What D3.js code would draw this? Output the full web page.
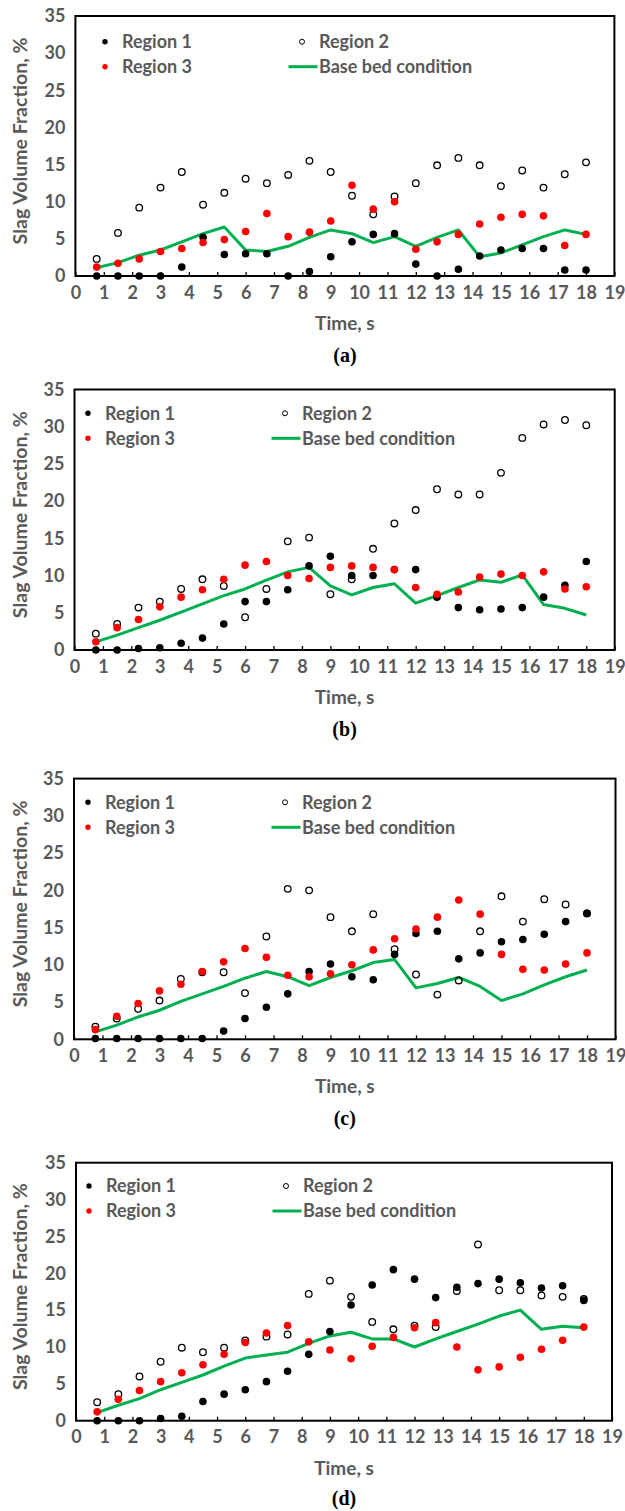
<!DOCTYPE html>
<html>
<head>
<meta charset="utf-8">
<script src="https://cdn.jsdelivr.net/npm/d3@7"></script>
<style>
  body { margin: 0; background: #fff; }
  svg text { font-family: Lato, "Open Sans", sans-serif; font-weight: bold; fill: #595959; }
  .plabel { font-family: "Liberation Serif", "Times New Roman", serif !important; fill: #000 !important; }
</style>
</head>
<body>
<div id="svg-container"></div>
<script>
// ---------- data ----------
const times = [0.75, 1.5, 2.25, 3, 3.75, 4.5, 5.25, 6, 6.75, 7.5, 8.25, 9, 9.75, 10.5, 11.25, 12, 12.75, 13.5, 14.25, 15, 15.75, 16.5, 17.25, 18];
const xTicks = [0, 1, 2, 3, 4, 5, 6, 7, 8, 9, 10, 11, 12, 13, 14, 15, 16, 17, 18, 19];
const yTicks = [0, 5, 10, 15, 20, 25, 30, 35];
const seriesNames = ["Region 1", "Region 2", "Region 3", "Base bed condition"];
const panelNames = ["(a)", "(b)", "(c)", "(d)"];

// panel (a)
const r1A = [0, 0, 0, 0, 1.2, 5.2, 2.9, 3.0, 3.0, 0, 0.6, 2.6, 4.6, 5.6, 5.7, 1.6, 0, 0.9, 2.7, 3.5, 3.7, 3.7, 0.8, 0.8];
const r2A = [2.3, 5.8, 9.2, 11.9, 14.0, 9.6, 11.2, 13.1, 12.5, 13.6, 15.5, 14.0, 10.8, 8.3, 10.7, 12.5, 14.9, 15.9, 14.9, 12.1, 14.2, 11.9, 13.7, 15.3];
const r3A = [1.2, 1.7, 2.3, 3.3, 3.7, 4.5, 4.9, 6.0, 8.4, 5.3, 5.9, 7.4, 12.2, 9.0, 10.0, 3.6, 4.6, 5.6, 7.0, 7.9, 8.3, 8.1, 4.1, 5.6];
const baseA = [1.1, 1.8, 2.8, 3.5, 4.6, 5.7, 6.6, 3.5, 3.3, 4.0, 5.2, 6.2, 5.7, 4.5, 5.3, 4.0, 5.2, 6.2, 2.6, 3.1, 4.2, 5.3, 6.2, 5.6];

// panel (b)
const r1B = [0, 0, 0.2, 0.3, 0.9, 1.6, 3.5, 6.5, 6.5, 8.1, 11.3, 12.6, 10.0, 10.0, 10.8, 10.8, 7.1, 5.7, 5.4, 5.5, 5.7, 7.1, 8.7, 11.9];
const r2B = [2.2, 3.5, 5.7, 6.5, 8.2, 9.5, 8.6, 4.4, 8.2, 14.6, 15.1, 7.5, 9.5, 13.6, 17.0, 18.8, 21.6, 20.9, 20.9, 23.8, 28.5, 30.3, 30.9, 30.2];
const r3B = [1.1, 3.0, 4.1, 5.8, 7.1, 8.1, 9.5, 11.4, 11.9, 10.0, 9.6, 11.1, 11.3, 11.1, 10.8, 8.4, 7.5, 7.8, 9.8, 10.2, 10.0, 10.5, 8.2, 8.5];
const baseB = [1.1, 2.0, 3.0, 4.0, 5.1, 6.2, 7.3, 8.2, 9.4, 10.5, 11.1, 8.6, 7.4, 8.4, 8.9, 6.3, 7.3, 8.4, 9.4, 9.1, 10.1, 6.1, 5.6, 4.7];

// panel (c)
const r1C = [0.1, 0.1, 0.1, 0.1, 0.1, 0.1, 1.1, 2.8, 4.3, 6.1, 9.1, 10.1, 8.4, 8.0, 11.4, 14.2, 14.5, 10.8, 11.6, 13.1, 13.4, 14.1, 15.8, 16.9];
const r2C = [1.7, 2.8, 4.1, 5.2, 8.1, 9.0, 9.0, 6.2, 13.8, 20.2, 20.0, 16.4, 14.5, 16.8, 12.1, 8.7, 6.0, 7.9, 14.5, 19.2, 15.8, 18.8, 18.1, 16.9];
const r3C = [1.3, 3.1, 4.8, 6.5, 7.4, 9.1, 10.4, 12.2, 11.0, 8.6, 8.4, 8.8, 10.0, 12.0, 13.5, 14.8, 16.4, 18.7, 16.8, 11.4, 9.4, 9.3, 10.1, 11.6];
const baseC = [1.0, 1.9, 3.0, 3.9, 5.1, 6.1, 7.1, 8.2, 9.1, 8.4, 7.2, 8.3, 9.2, 10.3, 10.7, 6.9, 7.5, 8.3, 7.1, 5.2, 6.1, 7.3, 8.4, 9.3];

// panel (d)
const r1D = [0, 0, 0, 0.3, 0.6, 2.6, 3.6, 4.2, 5.3, 6.7, 9.0, 12.1, 15.7, 18.4, 20.5, 19.2, 16.7, 18.1, 18.6, 19.2, 18.7, 18.0, 18.3, 16.3];
const r2D = [2.5, 3.6, 6.0, 8.0, 9.9, 9.3, 9.9, 10.9, 11.4, 11.7, 17.2, 19.0, 16.8, 13.4, 12.4, 12.9, 12.7, 17.6, 23.9, 17.7, 17.7, 17.0, 16.8, 16.5];
const r3D = [1.2, 2.9, 4.1, 5.3, 6.5, 7.6, 9.0, 10.6, 11.9, 12.9, 10.7, 9.6, 8.4, 10.1, 11.3, 12.6, 13.3, 10.0, 6.9, 7.3, 8.6, 9.7, 10.9, 12.7];
const baseD = [1.1, 2.1, 3.0, 4.2, 5.2, 6.2, 7.4, 8.5, 8.9, 9.3, 10.5, 11.5, 12.0, 11.1, 11.1, 10.0, 11.1, 12.1, 13.1, 14.2, 15.0, 12.4, 12.8, 12.6];

const panelData = [
    [r1A, r2A, r3A, baseA],
    [r1B, r2B, r3B, baseB],
    [r1C, r2C, r3C, baseC],
    [r1D, r2D, r3D, baseD],
];

// ---------- layout ----------
const width = 625, height = 1511;
const layout = [
    { left: 75.4, right: 614.4, top: 16, bottom: 276, legX: 105, legY: 41.7 },
    { left: 74.5, right: 614.7, top: 389.5, bottom: 650, legX: 88, legY: 413.3 },
    { left: 74, right: 615.5, top: 778.6, bottom: 1039.3, legX: 88, legY: 802.3 },
    { left: 76, right: 612, top: 1162.7, bottom: 1420.7, legX: 89, legY: 1186 },
];

const green = "#00b050";
const red = "#ff0000";
const fs = 18; // label font size

const svg = d3.select("#svg-container").append("svg")
    .attr("width", width).attr("height", height);

layout.forEach((L, pi) => {
    const [r1, r2, r3, base] = panelData[pi];
    const g = svg.append("g");

    const xScale = d3.scaleLinear().domain([0, 19]).range([L.left, L.right]);
    const yScale = d3.scaleLinear().domain([0, 35]).range([L.bottom, L.top]);

    // axes
    const xAxis = d3.axisBottom(xScale).tickValues(xTicks).tickFormat(d3.format("d"))
        .tickSizeInner(-4).tickSizeOuter(0).tickPadding(10);
    const gx = g.append("g").attr("transform", `translate(0,${L.bottom})`).call(xAxis);
    gx.select(".domain").remove();
    gx.selectAll("line").attr("stroke", "#000").attr("stroke-width", 1.3);
    gx.selectAll("text").attr("font-size", fs).attr("fill", null);

    const yAxis = d3.axisLeft(yScale).tickValues(yTicks).tickSize(0).tickPadding(10);
    const gy = g.append("g").attr("transform", `translate(${L.left},0)`).call(yAxis);
    gy.select(".domain").remove();
    gy.selectAll("text").attr("font-size", fs).attr("fill", null);

    // plot border
    g.append("rect")
        .attr("x", L.left).attr("y", L.top)
        .attr("width", L.right - L.left).attr("height", L.bottom - L.top)
        .attr("fill", "none").attr("stroke", "#000").attr("stroke-width", 2);

    // base bed line
    const line = d3.line().x((d, i) => xScale(times[i])).y((d) => yScale(d));
    g.append("path").datum(base)
        .attr("d", line).attr("fill", "none")
        .attr("stroke", green).attr("stroke-width", 3).attr("stroke-linejoin", "round");

    // region 1
    g.selectAll(".r1").data(r1).enter().append("circle")
        .attr("cx", (d, i) => xScale(times[i])).attr("cy", (d) => yScale(d))
        .attr("r", 3.8).attr("fill", "#000");
    // region 2
    g.selectAll(".r2").data(r2).enter().append("circle")
        .attr("cx", (d, i) => xScale(times[i])).attr("cy", (d) => yScale(d))
        .attr("r", 3.3).attr("fill", "none").attr("stroke", "#000").attr("stroke-width", 1.3);
    // region 3
    g.selectAll(".r3").data(r3).enter().append("circle")
        .attr("cx", (d, i) => xScale(times[i])).attr("cy", (d) => yScale(d))
        .attr("r", 3.8).attr("fill", red);

    // legend
    const lg = g.append("g");
    const col2 = L.legX + 197;
    const row2 = L.legY + 25;
    lg.append("circle").attr("cx", L.legX).attr("cy", L.legY).attr("r", 2.7).attr("fill", "#000");
    lg.append("circle").attr("cx", L.legX).attr("cy", row2).attr("r", 2.7).attr("fill", red);
    lg.append("circle").attr("cx", col2).attr("cy", L.legY).attr("r", 2.5)
        .attr("fill", "none").attr("stroke", "#000").attr("stroke-width", 1);
    lg.append("line").attr("x1", col2 - 13.5).attr("x2", col2 + 15.5)
        .attr("y1", row2).attr("y2", row2).attr("stroke", green).attr("stroke-width", 3);
    const legPos = [[L.legX, L.legY], [col2, L.legY], [L.legX, row2], [col2, row2]];
    seriesNames.forEach((name, i) => {
        lg.append("text").attr("x", legPos[i][0] + 17).attr("y", legPos[i][1])
            .attr("dy", "0.36em").attr("font-size", fs).text(name);
    });

    // axis titles
    const cx = (L.left + L.right) / 2;
    g.append("text")
        .attr("transform", `translate(20,${(L.top + L.bottom) / 2 - 5}) rotate(-90)`)
        .attr("text-anchor", "middle").attr("dy", "0.36em").attr("font-size", 19.5)
        .text("Slag Volume Fraction, %");
    g.append("text").attr("x", cx).attr("y", L.bottom + 47)
        .attr("text-anchor", "middle").attr("dy", "0.36em").attr("font-size", 19)
        .text("Time, s");
    g.append("text").attr("class", "plabel").attr("x", cx).attr("y", L.bottom + (pi === 3 ? 77 : 79))
        .attr("text-anchor", "middle").attr("dy", "0.35em").attr("font-size", 20)
        .text(panelNames[pi]);
});
</script>
</body>
</html>
